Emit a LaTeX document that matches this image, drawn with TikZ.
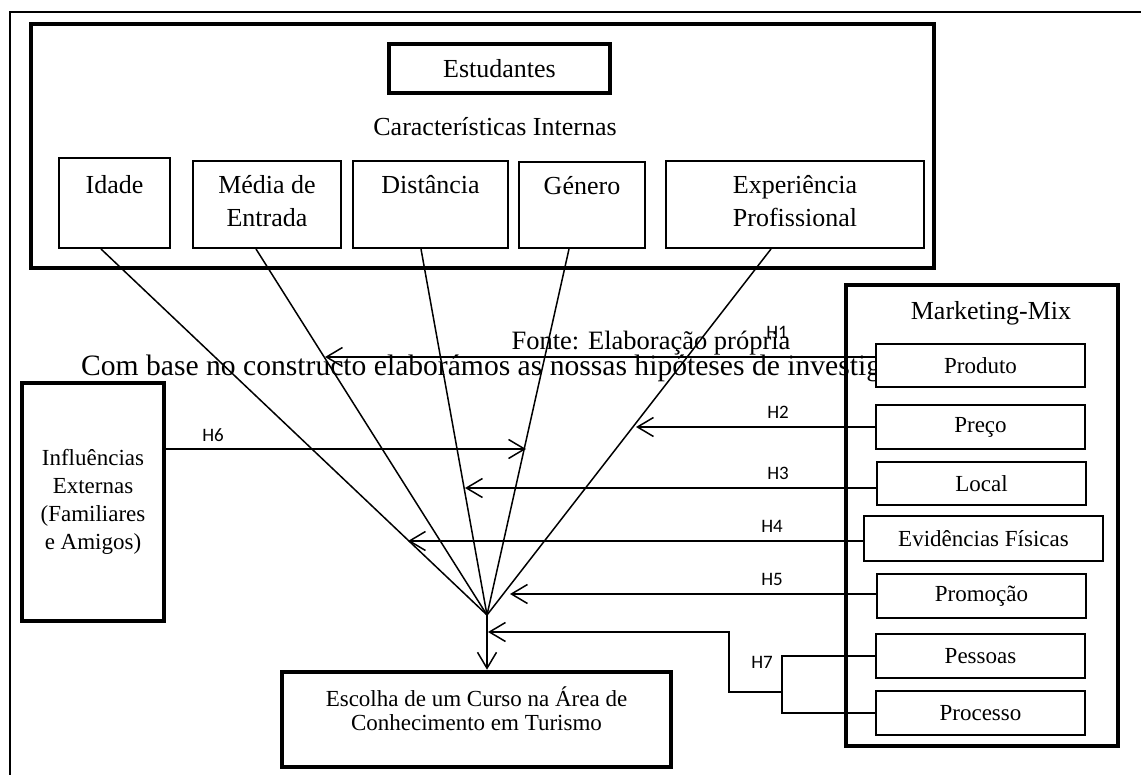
\documentclass[tikz,border=0pt]{standalone}
\usepackage{fontspec}
\setmainfont{Liberation Serif}
\newfontfamily\calibri{Carlito}
\usetikzlibrary{arrows.meta}

\begin{document}
\begin{tikzpicture}[x=1pt,y=-1pt,
  thin box/.style={draw,line width=2pt,fill=white,inner sep=0pt},
  thick box/.style={draw,line width=4.5pt,inner sep=0pt},
  big/.style={font=\fontsize{26}{33}\selectfont,align=center,inner sep=0pt},
  small/.style={font=\fontsize{23}{28}\selectfont,align=center,inner sep=0pt},
  hlbl/.style={font=\calibri\fontsize{19}{19}\selectfont,inner sep=0pt},
  link/.style={line width=1.5pt},
  arr/.style={link,-{Straight Barb[length=16pt,width=19pt]}}]
\useasboundingbox (0,0) rectangle (1141,775);

\node[font=\fontsize{29.6}{29.6}\selectfont,anchor=west,inner sep=0pt] (base) at (81,368) {Com base no constructo elaborámos as nossas hipóteses de investigação.};
\node[font=\fontsize{26.5}{26.5}\selectfont,inner sep=0pt] (fonte) at (651,343) {Fonte: Elaboração própria};

\draw[line width=2pt] (10,775) -- (10,12) -- (1141,12);

\node[thick box,minimum width=903pt,minimum height=244pt] (estud) at (482.5,146) {};
\node[thick box,big,minimum width=221pt,minimum height=49pt] (estudantes) at (499.5,68.5) {Estudantes};
\node[big] (caract) at (495,127) {Características Internas};

\node[thin box,minimum width=111pt,minimum height=90pt] (idade) at (114.5,203) {};
\node[thin box,minimum width=148pt,minimum height=87pt] (media) at (267,204.5) {};
\node[thin box,minimum width=155pt,minimum height=87pt] (distancia) at (430.5,204.5) {};
\node[thin box,minimum width=126pt,minimum height=86pt] (genero) at (582,205) {};
\node[thin box,minimum width=258pt,minimum height=87pt] (experiencia) at (795,204.5) {};
\node[big] (idadeT) at (114.5,185) {Idade};
\node[big] (mediaT) at (267,201) {Média de\\Entrada};
\node[big] (distanciaT) at (430.5,185) {Distância};
\node[big] (generoT) at (582,186) {Género};
\node[big] (experienciaT) at (795,201) {Experiência\\Profissional};

\node[thick box,minimum width=272pt,minimum height=461pt] (mix) at (982,515.5) {};
\node[big] (mixT) at (991,313) {Marketing-Mix};

\node[thick box,small,minimum width=142pt,minimum height=238pt] (influ) at (93,502) {Influências\\Externas\\(Familiares\\e Amigos)};
\node[thick box,minimum width=389pt,minimum height=95pt] (escolha) at (476.5,719.5) {};
\node[small,font=\fontsize{23}{24}\selectfont] (escolhaT) at (476.5,709) {Escolha de um Curso na Área de\\Conhecimento em Turismo};

\coordinate (foco) at (487,615);
\draw[link] ([xshift=-13.5pt]idade.south) -- (foco);
\draw[link] ([xshift=-11pt]media.south) -- (foco);
\draw[link] ([xshift=-9.5pt]distancia.south) -- (foco);
\draw[link] ([xshift=-13pt]genero.south) -- (foco);
\draw[link] ([xshift=-24pt]experiencia.south) -- (foco);
\draw[arr] (foco) -- ([xshift=10.5pt]escolha.north);

\node[thin box,small,minimum width=209pt,minimum height=43pt] (produto) at (980.5,365.5) {Produto};
\node[thin box,small,minimum width=209pt,minimum height=44pt] (preco) at (980.5,427) {Preço};
\node[thin box,small,minimum width=209pt,minimum height=43pt] (local) at (981.5,483.5) {Local};
\node[thin box,small,minimum width=239pt,minimum height=45pt] (evid) at (983.5,538.5) {Evidências Físicas};
\node[thin box,small,minimum width=209pt,minimum height=44pt] (promo) at (981.5,596) {Promoção};
\node[thin box,small,minimum width=209pt,minimum height=44pt] (pessoas) at (980.5,656) {Pessoas};
\node[thin box,small,minimum width=209pt,minimum height=44pt] (processo) at (980.5,713) {Processo};

\coordinate (t1) at (325,357);
\coordinate (t2) at (636,427);
\coordinate (t3) at (465,488);
\coordinate (t4) at (408,541);
\coordinate (t5) at (510,594);
\coordinate (t6) at (526,449);
\coordinate (t7) at (488,632);
\coordinate (brk) at (782,692);
\draw[arr] ([yshift=8.5pt]produto.west) -- (t1);
\draw[arr] (preco.west) -- (t2);
\draw[arr] ([yshift=-4.5pt]local.west) -- (t3);
\draw[arr] ([yshift=-2.5pt]evid.west) -- (t4);
\draw[arr] ([yshift=2pt]promo.west) -- (t5);
\draw[arr] ([yshift=53pt]influ.east) -- (t6);
\draw[link] (pessoas.west) -| (brk);
\draw[link] (processo.west) -| (brk);
\draw[arr] (brk) -- ++(-53,0) |- (t7);

\node[hlbl] (h1) at (777,332) {H1};
\node[hlbl] (h2) at (778,412) {H2};
\node[hlbl] (h3) at (778,473) {H3};
\node[hlbl] (h4) at (772,526) {H4};
\node[hlbl] (h5) at (772,579) {H5};
\node[hlbl] (h6) at (213,435) {H6};
\node[hlbl] (h7) at (762,662) {H7};
\end{tikzpicture}
\end{document}
